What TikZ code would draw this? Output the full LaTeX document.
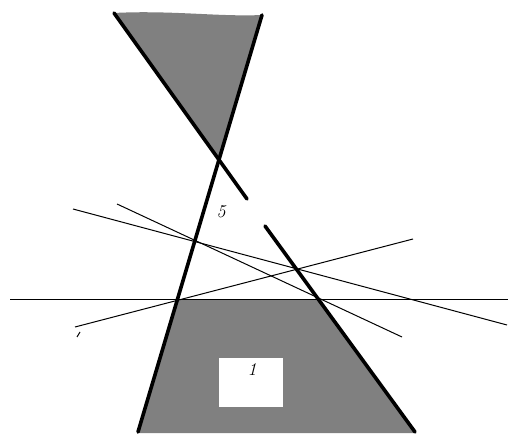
\documentclass[tikz,border=0pt]{standalone}
\usepackage{tikz}
\usetikzlibrary{positioning}
\definecolor{shadegray}{RGB}{128,128,128}
\tikzset{
  thickline/.style={line width=3.6pt,line cap=round},
  thinline/.style={line width=1pt},
  numlabel/.style={font=\fontsize{18}{20}\selectfont\itshape,inner sep=1pt}
}
\begin{document}
\begin{tikzpicture}[x=1pt,y=-1pt]
\useasboundingbox (0,0) rectangle (508,435);
% end points of the two thick lines, and where they cross
\coordinate (lt) at (262,15);
\coordinate (lb) at (138,432);
\coordinate (rt) at (114,13);
\coordinate (rb) at (415,432);
\coordinate (x) at (219,159);
% shaded regions: small triangle on top, trapezoid below the horizontal line
\fill[shadegray] (rt) .. controls (170,10) and (220,17) .. (lt) -- (x) -- cycle;
\fill[shadegray] (177,299) -- (319,299) -- (415,433) -- (138,433) -- cycle;
\node[fill=white,minimum width=64pt,minimum height=49pt,inner sep=0pt] (box1) at (251,382.5){};
\node[numlabel] (lab1) at (252,370){1};
\node[numlabel] (lab5) at (221,212){5};
% thin lines
\draw[thinline] (10,299) -- (508,299);
\draw[thinline] (73,209) -- (507,325);
\draw[thinline] (117,204) -- (402,337);
\draw[thinline] (75,327) -- (413,239);
\draw[thinline] (77,337) -- (80,332);
% thick lines, the right one broken near the label
\draw[thickline] (lb) -- (lt);
\draw[thickline] (rt) -- (247,199);
\draw[thickline] (265,226) -- (rb);
\end{tikzpicture}
\end{document}
